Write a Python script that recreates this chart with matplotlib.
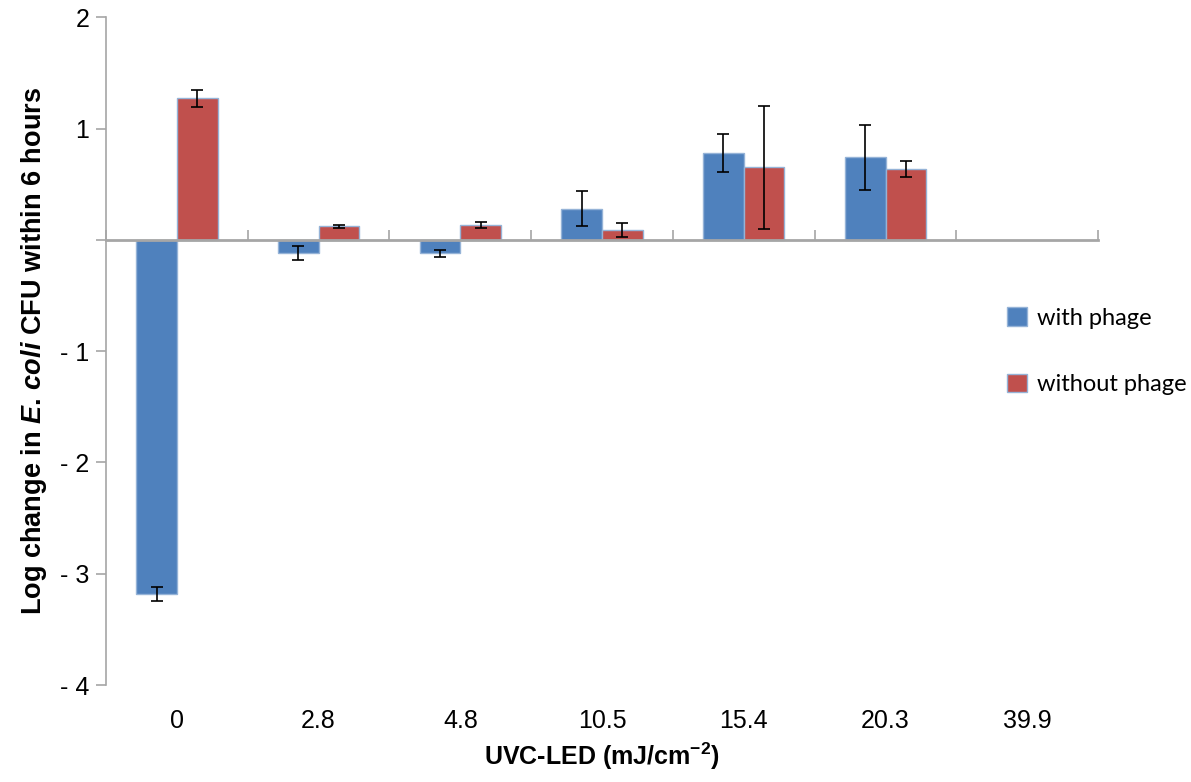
"""Grouped bar chart: log change in E. coli CFU after UVC-LED exposure."""

import matplotlib

matplotlib.use("Agg")

import matplotlib.pyplot as plt
import numpy as np

plt.rcParams["font.family"] = ["Liberation Sans", "DejaVu Sans"]
plt.rcParams["mathtext.fontset"] = "custom"
plt.rcParams["mathtext.rm"] = "Liberation Sans:bold"
plt.rcParams["mathtext.it"] = "Liberation Sans:italic:bold"
plt.rcParams["mathtext.bf"] = "Liberation Sans:bold"

doses = ["0", "2.8", "4.8", "10.5", "15.4", "20.3", "39.9"]
with_phage = [-3.18, -0.12, -0.12, 0.28, 0.78, 0.74, 0.0]
with_phage_err = [0.065, 0.06, 0.03, 0.16, 0.175, 0.29, 0.0]
without_phage = [1.27, 0.12, 0.13, 0.09, 0.65, 0.635, 0.0]
without_phage_err = [0.08, 0.012, 0.027, 0.065, 0.55, 0.07, 0.0]

y_ticks = [-4, -3, -2, -1, 0, 1, 2]
y_tick_labels = ["- 4", "- 3", "- 2", "- 1", "", "1", "2"]

BLUE = "#4F81BD"
RED = "#C0504D"
EDGE = "#95B3D7"
AXIS_GREY = "#A6A6A6"

fig = plt.figure(figsize=(11.91, 7.82), dpi=100)
ax = fig.add_axes([0.089, 0.124, 0.833, 0.854])

x = np.arange(len(doses))
width = 0.287
shown = [i for i in x if with_phage[i] != 0 or without_phage[i] != 0]
err_style = dict(ecolor="black", elinewidth=1.2, capsize=4.5, capthick=1.2)

ax.bar(
    x[shown] - width / 2,
    np.array(with_phage)[shown],
    width,
    yerr=np.array(with_phage_err)[shown],
    color=BLUE,
    edgecolor=EDGE,
    linewidth=1.0,
    label="with phage",
    error_kw=err_style,
    zorder=3,
)
ax.bar(
    x[shown] + width / 2,
    np.array(without_phage)[shown],
    width,
    yerr=np.array(without_phage_err)[shown],
    color=RED,
    edgecolor=EDGE,
    linewidth=1.0,
    label="without phage",
    error_kw=err_style,
    zorder=3,
)

ax.set_xlim(-0.5, len(doses) - 0.5)
ax.set_ylim(-4, 2)

# category labels sit along the bottom, the axis line itself runs at y = 0
ax.set_xticks(x)
ax.set_xticklabels(doses, fontsize=18)
ax.tick_params(axis="x", length=0, pad=17)
ax.set_yticks(y_ticks)
ax.set_yticklabels(y_tick_labels, fontsize=18)
ax.tick_params(axis="y", length=7, width=1.2, color=AXIS_GREY, pad=5)

for side in ("top", "right", "bottom"):
    ax.spines[side].set_visible(False)
ax.spines["left"].set_color(AXIS_GREY)
ax.spines["left"].set_linewidth(1.2)

zero_frac = (0 - y_ticks[0]) / (y_ticks[-1] - y_ticks[0])
zero_axis = ax.secondary_xaxis(zero_frac)
zero_axis.set_xticks(np.arange(len(doses) + 1) - 0.5)
zero_axis.set_xticklabels([])
zero_axis.tick_params(axis="x", direction="out", length=7, width=1.2, color=AXIS_GREY)
for spine in zero_axis.spines.values():
    spine.set_color(AXIS_GREY)
    spine.set_linewidth(2.0)
zero_axis.set_zorder(4)

ax.set_xlabel(r"UVC-LED (mJ/cm$^{-2}$)", fontsize=18, fontweight="bold", labelpad=6)
ax.set_ylabel(
    r"Log change in $E.\,coli$ CFU within 6 hours",
    fontsize=19.5,
    fontweight="bold",
    labelpad=8,
)

ax.legend(
    loc="center left",
    bbox_to_anchor=(0.887, 0.50),
    frameon=False,
    prop={"family": "Lato", "size": 17},
    handlelength=0.85,
    handleheight=0.85,
    handletextpad=0.4,
    labelspacing=1.9,
)

fig.savefig("out.png", dpi=100)
